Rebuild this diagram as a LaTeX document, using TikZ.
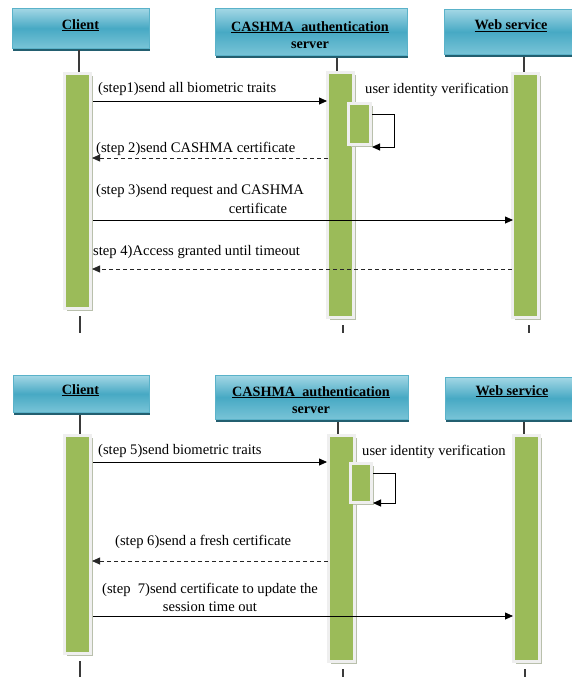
\documentclass[tikz,border=0pt]{standalone}
\usepackage{fontspec}
\setmainfont{Liberation Serif}
\usetikzlibrary{arrows.meta,shadows}
\definecolor{barG}{HTML}{9BBB59}
\definecolor{frameG}{HTML}{EFEFEF}
\definecolor{barShadow}{HTML}{B9C0AC}
\definecolor{headTop}{HTML}{A3D7E5}
\definecolor{headMid}{HTML}{47A9C4}
\definecolor{headBot}{HTML}{79C4D7}
\definecolor{headEdge}{HTML}{5AB2C9}
\definecolor{headShadow}{HTML}{235F70}
\definecolor{lifeC}{HTML}{3A3A3A}
\begin{document}
\begin{tikzpicture}[x=1pt,y=-1pt,
  head/.style={rectangle, draw=headEdge, line width=0.6pt, top color=headTop, bottom color=headBot, middle color=headMid, inner sep=0pt, anchor=north west,
    drop shadow={shadow xshift=1pt, shadow yshift=-3pt, fill=headShadow, opacity=1}},
  htxt/.style={font=\fontsize{14.2}{17}\selectfont\bfseries, inner sep=0pt, anchor=base},
  bar/.style={rectangle, fill=barG, draw=frameG, line width=3pt, inner sep=0pt,
    drop shadow={shadow xshift=2.5pt, shadow yshift=-2.5pt, fill=barShadow, opacity=1}},
  lbl/.style={font=\fontsize{14.6}{17}\selectfont, inner sep=0pt, anchor=base west},
  lblc/.style={lbl, anchor=base},
  life/.style={draw=lifeC, line width=1.2pt},
  msg/.style={-{Triangle[length=8pt,width=7pt]}, line width=0.8pt, draw=black},
  msgd/.style={msg, dash pattern=on 4pt off 3pt, draw=black!85}
]
\useasboundingbox (0,0) rectangle (572,678);
\clip (0,0) rectangle (572,678);
\fill[white] (0,0) rectangle (572,678);

% ================= TOP DIAGRAM =================
\node[head, minimum width=137pt, minimum height=40pt] (c1) at (12,8) {};
\node[head, minimum width=192pt, minimum height=47pt] (s1) at (215,8) {};
\node[head, minimum width=136pt, minimum height=45pt] (w1) at (444,9) {};
\node[htxt] (c1t) at (80.5,29) {\underline{Client}};
\node[htxt] (s1t) at (310,31) {\underline{CASHMA~~authentication}};
\node[htxt] (s1u) at (310,48) {server};
\node[htxt] (w1t) at (511,29.5) {\underline{Web service}};

\coordinate (lt1) at (79,50);
\coordinate (lt2) at (337,58);
\coordinate (lt3) at (524,57);
\coordinate (lb1) at (80,333);
\coordinate (lb2) at (343,333);
\coordinate (lb3) at (529,333);

\node[bar, minimum width=26pt, minimum height=235pt] (cb1) at (77.5,191) {};
\node[bar, minimum width=26pt, minimum height=245pt] (sb1) at (340.5,195) {};
\node[bar, minimum width=26pt, minimum height=244pt] (wb1) at (525.5,195.5) {};

\draw[life] (lt1) -- (lt1 |- cb1.north);
\draw[life] (lt2) -- (lt2 |- sb1.north);
\draw[life] (lt3) -- (lt3 |- wb1.north);
\draw[life] (lb1 |- cb1.south) ++(0,6) -- (lb1);
\draw[life] (lb2 |- sb1.south) ++(0,6) -- (lb2);
\draw[life] (lb3 |- wb1.south) ++(0,6) -- (lb3);

\node[bar, minimum width=22pt, minimum height=41pt] (nb1) at (359.5,124) {};

\coordinate (m1a) at (93,101);  \coordinate (m1b) at (327,101);
\coordinate (m2a) at (328,158); \coordinate (m2b) at (92,158);
\coordinate (m3a) at (93,220);  \coordinate (m3b) at (513,220);
\coordinate (m4a) at (512,269); \coordinate (m4b) at (92,269);
\coordinate (sa1) at (372,114); \coordinate (sb1e) at (372,147);

\draw[msg] (m1a) -- (m1b);
\draw[msgd] (m2a) -- (m2b);
\draw[msg] (m3a) -- (m3b);
\draw[msgd] (m4a) -- (m4b);
\draw[msg, line width=1pt] (sa1) -- (394,114) -- (394,147) -- (sb1e);

\node[lbl] (l1) at (98,92) {(step1)send all biometric traits};
\node[lbl] (uv1) at (365,93) {user identity verification};
\node[lbl] (l2) at (96,152) {(step 2)send CASHMA certificate};
\node[lbl] (l3a) at (96,194) {(step 3)send request and CASHMA};
\node[lblc] (l3b) at (258,213) {certificate};
\node[lbl] (l4) at (93,255) {step 4)Access granted until timeout};

% ================= BOTTOM DIAGRAM =================
\node[head, minimum width=136pt, minimum height=37pt] (c2) at (13,375) {};
\node[head, minimum width=193pt, minimum height=44pt] (s2) at (215,375) {};
\node[head, minimum width=136pt, minimum height=42pt] (w2) at (445,377) {};
\node[htxt] (c2t) at (80.5,394) {\underline{Client}};
\node[htxt] (s2t) at (311,396) {\underline{CASHMA~~authentication}};
\node[htxt] (s2u) at (311,413) {server};
\node[htxt] (w2t) at (512,395) {\underline{Web service}};

\coordinate (lt4) at (80,415);
\coordinate (lt5) at (338,422);
\coordinate (lt6) at (524,422);
\coordinate (lb4) at (80,677);
\coordinate (lb5) at (343,677);
\coordinate (lb6) at (525,677);

\node[bar, minimum width=26pt, minimum height=218pt] (cb2) at (77.5,544.5) {};
\node[bar, minimum width=26pt, minimum height=226pt] (sb2) at (341.5,548.5) {};
\node[bar, minimum width=26pt, minimum height=226pt] (wb2) at (526.5,548.5) {};

\draw[life] (lt4) -- (lt4 |- cb2.north);
\draw[life] (lt5) -- (lt5 |- sb2.north);
\draw[life] (lt6) -- (lt6 |- wb2.north);
\draw[life] (lb4 |- cb2.south) ++(0,6) -- (lb4);
\draw[life] (lb5 |- sb2.south) ++(0,6) -- (lb5);
\draw[life] (lb6 |- wb2.south) ++(0,6) -- (lb6);

\node[bar, minimum width=21pt, minimum height=39pt] (nb2) at (361,483) {};

\coordinate (m5a) at (93,462);  \coordinate (m5b) at (327,462);
\coordinate (m6a) at (328,561); \coordinate (m6b) at (92,561);
\coordinate (m7a) at (93,616);  \coordinate (m7b) at (513,616);
\coordinate (sa2) at (373,473); \coordinate (sb2e) at (373,503);

\draw[msg] (m5a) -- (m5b);
\draw[msgd] (m6a) -- (m6b);
\draw[msg] (m7a) -- (m7b);
\draw[msg, line width=1pt] (sa2) -- (395,473) -- (395,503) -- (sb2e);

\node[lbl] (l5) at (98,454) {(step 5)send biometric traits};
\node[lbl] (uv2) at (362,455) {user identity verification};
\node[lbl] (l6) at (115,545) {(step 6)send a fresh certificate};
\node[lblc] (l7a) at (210,593) {(step~~7)send certificate to update the};
\node[lblc] (l7b) at (210,611) {session time out};
\end{tikzpicture}
\end{document}
